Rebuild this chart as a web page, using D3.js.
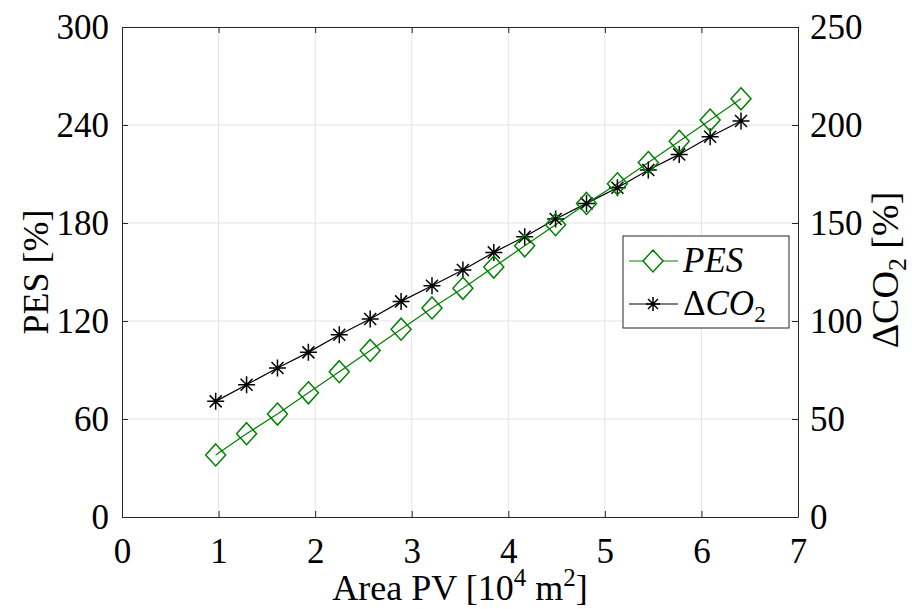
<!DOCTYPE html>
<html>
<head>
<meta charset="utf-8">
<script src="https://cdn.jsdelivr.net/npm/d3@7"></script>
<style>
  body { margin: 0; background: #fff; }
  svg text { font-family: "Liberation Serif", "DejaVu Serif", serif; fill: #000; }
  .grid line { stroke: #e3e3e3; stroke-width: 1; }
  .axis path, .axis line { stroke: #262626; stroke-width: 1; }
</style>
</head>
<body>
<svg id="chart" width="912" height="609"></svg>
<script>
// Area PV [10^4 m^2]
const areaPV = [0.97, 1.29, 1.61, 1.93, 2.25, 2.57, 2.89, 3.21, 3.53, 3.85,
                4.17, 4.49, 4.81, 5.13, 5.45, 5.77, 6.09, 6.41];
// PES [%] (left axis)
const pes = [38, 51, 63, 76, 89, 102, 115, 128, 140, 153,
             166, 179, 192, 204, 217, 230, 243, 256];
// delta CO2 [%] (right axis)
const dco2 = [59, 67.5, 76, 84, 93, 101, 110, 118, 126, 135,
              143, 152, 160, 168, 177, 185, 194, 202];

const xTicks = [0, 1, 2, 3, 4, 5, 6, 7];
const yLeftTicks = [0, 60, 120, 180, 240, 300];
const yRightTicks = [0, 50, 100, 150, 200, 250];

const M = { left: 122, right: 798, top: 27, bottom: 517 };
const GREEN = '#008000';
const FS = 35;

const svg = d3.select('#chart');

const x = d3.scaleLinear().domain([0, 7]).range([M.left, M.right]);
const yL = d3.scaleLinear().domain([0, 300]).range([M.bottom, M.top]);
const yR = d3.scaleLinear().domain([0, 250]).range([M.bottom, M.top]);

// grid
const grid = svg.append('g').attr('class', 'grid');
grid.selectAll('.gx').data(xTicks.slice(1, -1)).enter().append('line')
  .attr('x1', d => x(d)).attr('x2', d => x(d))
  .attr('y1', M.top).attr('y2', M.bottom);
grid.selectAll('.gy').data(yLeftTicks.slice(1, -1)).enter().append('line')
  .attr('x1', M.left).attr('x2', M.right)
  .attr('y1', d => yL(d)).attr('y2', d => yL(d));

// axes (MATLAB style: ticks pointing inward)
const styleAxis = g => {
  g.attr('class', 'axis');
  g.selectAll('text').style('font-size', FS + 'px').attr('fill', '#000');
};
const fmt = d3.format('d');

svg.append('g').attr('transform', `translate(0,${M.bottom})`)
  .call(d3.axisBottom(x).tickValues(xTicks).tickFormat(fmt).tickSize(-6).tickSizeOuter(0).tickPadding(21))
  .call(styleAxis);
svg.append('g').attr('transform', `translate(0,${M.top})`)
  .call(d3.axisTop(x).tickValues(xTicks).tickSize(-6).tickSizeOuter(0).tickFormat(''))
  .call(styleAxis);
svg.append('g').attr('transform', `translate(${M.left},0)`)
  .call(d3.axisLeft(yL).tickValues(yLeftTicks).tickFormat(fmt).tickSize(-6).tickSizeOuter(0).tickPadding(13))
  .call(styleAxis);
svg.append('g').attr('transform', `translate(${M.right},0)`)
  .call(d3.axisRight(yR).tickValues(yRightTicks).tickFormat(fmt).tickSize(-6).tickSizeOuter(0).tickPadding(12))
  .call(styleAxis);

// series
const plot = svg.append('g');
const lineL = d3.line().x((d, i) => x(areaPV[i])).y(d => yL(d));
const lineR = d3.line().x((d, i) => x(areaPV[i])).y(d => yR(d));

plot.append('path').datum(dco2).attr('d', lineR)
  .attr('fill', 'none').attr('stroke', '#000').attr('stroke-width', 1.2);
plot.append('path').datum(pes).attr('d', lineL)
  .attr('fill', 'none').attr('stroke', GREEN).attr('stroke-width', 1.2);

const starPath = (s) => {
  const r = s / 2, d = r * 0.707;
  return `M${-r},0H${r}M0,${-r}V${r}M${-d},${-d}L${d},${d}M${-d},${d}L${d},${-d}`;
};
const diamondPath = (w, h) => `M0,${-h / 2}L${w / 2},0L0,${h / 2}L${-w / 2},0Z`;

plot.selectAll('.star').data(dco2).enter().append('path')
  .attr('transform', (d, i) => `translate(${x(areaPV[i])},${yR(d)})`)
  .attr('d', starPath(17))
  .attr('fill', 'none').attr('stroke', '#000').attr('stroke-width', 1.5);

plot.selectAll('.dia').data(pes).enter().append('path')
  .attr('transform', (d, i) => `translate(${x(areaPV[i])},${yL(d)})`)
  .attr('d', diamondPath(20, 22))
  .attr('fill', 'none').attr('stroke', GREEN).attr('stroke-width', 1.5);

// legend
const lg = svg.append('g').attr('transform', 'translate(623,236)');
lg.append('rect').attr('width', 166).attr('height', 92)
  .attr('fill', '#fff').attr('stroke', '#262626').attr('stroke-width', 1);
lg.append('line').attr('x1', 6).attr('x2', 55).attr('y1', 25).attr('y2', 25)
  .attr('stroke', GREEN).attr('stroke-width', 1.2);
lg.append('path').attr('transform', 'translate(30,25)').attr('d', diamondPath(20, 22))
  .attr('fill', '#fff').attr('stroke', GREEN).attr('stroke-width', 1.5);
lg.append('text').attr('x', 60).attr('y', 36).style('font-size', FS + 'px')
  .style('font-style', 'italic').text('PES');
lg.append('line').attr('x1', 6).attr('x2', 55).attr('y1', 68).attr('y2', 68)
  .attr('stroke', '#000').attr('stroke-width', 1.2);
lg.append('path').attr('transform', 'translate(30,68)').attr('d', starPath(14))
  .attr('fill', 'none').attr('stroke', '#000').attr('stroke-width', 1.5);
const t2 = lg.append('text').attr('x', 60).attr('y', 79).style('font-size', FS + 'px');
t2.append('tspan').text('Δ');
t2.append('tspan').style('font-style', 'italic').text('CO');
t2.append('tspan').attr('dy', 7).style('font-size', '23px').text('2');

// axis labels
svg.append('text').attr('transform', 'translate(48,272) rotate(-90)')
  .attr('text-anchor', 'middle').style('font-size', '36px').text('PES [%]');

const ry = svg.append('text').attr('transform', 'translate(898,270) rotate(-90)')
  .attr('text-anchor', 'middle').style('font-size', '38px');
ry.append('tspan').text('ΔCO');
ry.append('tspan').attr('dy', 8).style('font-size', '26px').text('2');
ry.append('tspan').attr('dy', -8).text(' [%]');

const xl = svg.append('text').attr('x', 460).attr('y', 600)
  .attr('text-anchor', 'middle').style('font-size', '36px');
xl.append('tspan').text('Area PV [10');
xl.append('tspan').attr('dy', -14).style('font-size', '25px').text('4');
xl.append('tspan').attr('dy', 14).text(' m');
xl.append('tspan').attr('dy', -14).style('font-size', '25px').text('2');
xl.append('tspan').attr('dy', 14).text(']');
</script>
</body>
</html>
